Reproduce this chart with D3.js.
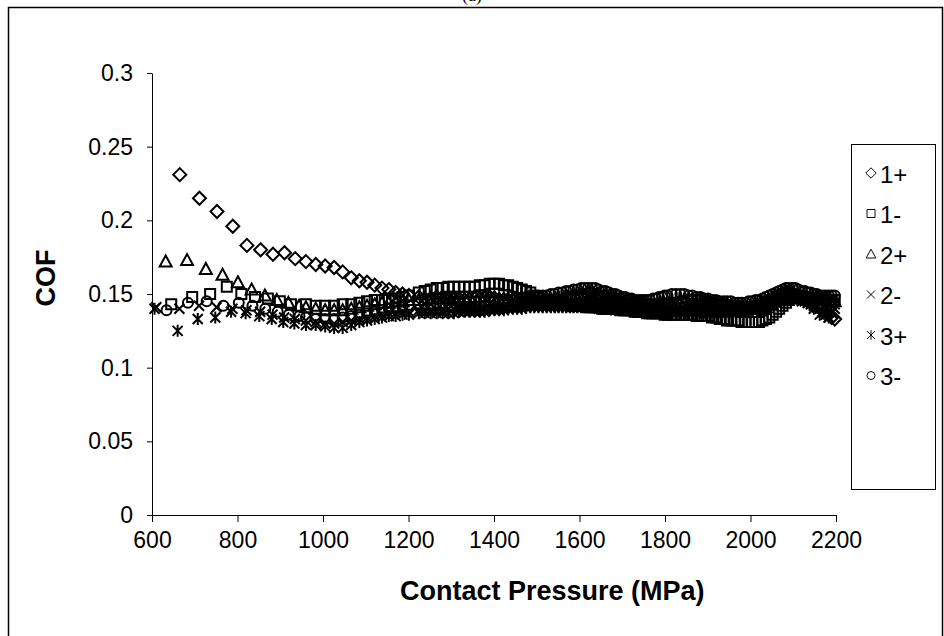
<!DOCTYPE html>
<html>
<head>
<meta charset="utf-8">
<script src="https://cdn.jsdelivr.net/npm/d3@7"></script>
<style>body{margin:0;background:#fff}</style>
</head>
<body>
<div id="chart"></div>
<script>
var w = 944;
var h = 636;

// pressure points shared by all tests above ~950 MPa
var denseP = [960,983,1005,1026,1046,1066,1085,1103,1121,1138,
  1154,1170,1186,1201,1224,1252,1280,1306,1331,1355,
  1378,1401,1423,1444,1465,1485,1504,1523,1542,1560,
  1578,1595,1612,1629,1645,1661,1676,1692,1707,1722,
  1737,1751,1765,1779,1793,1806,1826,1845,1864,1883,
  1901,1919,1937,1954,1971,1988,2004,2020,2036,2052,
  2067,2083,2098,2112,2127,2141,2155,2169,2183,2197];
// the readings in between
var denseP2 = [1238,1266,1293,1318,1343,1367,1390,1412,1433,1454,
  1475,1494,1514,1533,1551,1569,1586,1604,1620,1637,1653,
  1669,1684,1700,1715,1729,1744,1758,1772,1786,1799,
  1816,1836,1855,1874,1892,1910,1928,1945,1963,1979,1996,2012,
  2028,2044,2060,2075,2090,2105,2120,2134,2148,2162,2176,2190];

// 1+
var p1plus = [665,711,752,789,822,854,883,910,935];
var c1plus = [.231,.215,.206,.196,.183,.180,.177,.178,.174,
  .172,.170,.169,.168,.165,.161,.159,.158,.156,.154,
  .153,.151,.150,.149,.148,.147,.148,.147,.146,.147,
  .148,.147,.146,.146,.145,.146,.145,.145,.146,.146,
  .147,.148,.149,.150,.149,.148,.147,.146,.145,.145,
  .144,.143,.142,.141,.142,.143,.144,.145,.146,.146,
  .145,.144,.143,.142,.141,.140,.141,.142,.144,.146,
  .149,.151,.150,.148,.146,.144,.142,.140,.136,.133];
var c1plusB = [.147,.148,.147,.147,.146,.147,.148,.146,.146,.145,
  .145,.146,.145,.146,.146,.147,.148,.149,.150,.149,.148,
  .147,.146,.146,.145,.144,.143,.142,.141,.142,.143,
  .144,.145,.146,.146,.145,.144,.143,.142,.141,.140,.140,.142,
  .143,.145,.147,.150,.151,.149,.147,.145,.143,.141,.138,.134];

// 1-
var p1minus = [645,694,736,775,809,841,871,899,925];
var c1minus = [.143,.148,.150,.155,.150,.148,.147,.145,.143,
  .143,.142,.142,.142,.143,.143,.144,.145,.146,.146,
  .147,.147,.148,.149,.151,.153,.154,.155,.155,.155,
  .156,.157,.156,.155,.153,.151,.148,.146,.144,.143,
  .143,.142,.142,.141,.141,.140,.140,.140,.139,.139,
  .138,.138,.137,.137,.137,.136,.136,.136,.136,.135,
  .135,.134,.133,.132,.132,.131,.131,.131,.133,.136,
  .140,.144,.147,.148,.148,.147,.147,.146,.146,.146];
var c1minusB = [.152,.154,.155,.155,.155,.156,.157,.157,.156,.154,
  .152,.149,.147,.145,.143,.143,.142,.142,.141,.141,.140,
  .140,.140,.139,.139,.138,.138,.137,.137,.137,.136,
  .136,.136,.136,.135,.135,.134,.133,.132,.132,.131,.131,.131,
  .132,.134,.138,.142,.146,.148,.148,.147,.147,.146,.146,.146];

// 2+
var p2plus = [632,682,726,765,801,833,864,892,919,944];
var c2plus = [.172,.173,.167,.163,.158,.153,.149,.146,.144,.142,
  .141,.140,.139,.139,.139,.140,.141,.142,.143,.144,
  .144,.145,.145,.146,.146,.147,.147,.147,.147,.148,
  .148,.148,.147,.147,.146,.146,.145,.145,.145,.146,
  .146,.147,.147,.146,.146,.145,.145,.144,.144,.143,
  .143,.142,.142,.142,.142,.143,.143,.144,.144,.144,
  .143,.143,.142,.141,.140,.140,.140,.141,.143,.146,
  .149,.150,.150,.149,.148,.147,.147,.146,.146,.145];
var c2plusB = [.146,.147,.147,.147,.148,.148,.148,.147,.147,.146,
  .146,.145,.145,.145,.146,.146,.147,.147,.146,.146,.145,
  .145,.144,.144,.143,.143,.142,.142,.142,.142,.143,
  .143,.144,.144,.144,.143,.143,.142,.141,.140,.140,.140,.141,
  .142,.144,.148,.150,.150,.149,.148,.147,.147,.146,.146,.145];

// 2-
var p2minus = [610,664,710,751,788,821,853,882,909,934];
var c2minus = [.141,.140,.142,.141,.140,.139,.138,.136,.134,.133,
  .132,.131,.130,.130,.131,.132,.133,.134,.135,.136,
  .137,.137,.138,.138,.139,.139,.139,.140,.140,.140,
  .140,.141,.141,.141,.142,.142,.142,.142,.143,.143,
  .143,.143,.143,.142,.142,.142,.141,.141,.141,.140,
  .140,.140,.139,.139,.139,.139,.139,.139,.139,.139,
  .139,.139,.138,.138,.138,.138,.139,.140,.141,.143,
  .145,.147,.147,.146,.145,.143,.141,.138,.134,.140];
var c2minusB = [.139,.139,.140,.140,.140,.140,.141,.141,.141,.142,
  .142,.142,.142,.143,.143,.143,.143,.143,.142,.142,.142,
  .141,.141,.141,.140,.140,.140,.139,.139,.139,.139,
  .139,.139,.139,.139,.139,.139,.138,.138,.138,.138,.138,.139,
  .140,.142,.144,.146,.147,.146,.145,.144,.142,.140,.136,.137];

// 3+
var p3plus = [606,660,707,748,785,819,851,880,907,933];
var c3plus = [.140,.125,.133,.134,.138,.137,.135,.133,.131,.130,
  .129,.129,.128,.127,.127,.129,.131,.132,.133,.134,
  .135,.135,.136,.136,.137,.137,.137,.137,.138,.138,
  .138,.139,.139,.140,.140,.141,.141,.141,.141,.141,
  .141,.141,.141,.141,.140,.140,.140,.139,.139,.139,
  .138,.138,.137,.137,.137,.137,.137,.137,.137,.137,
  .138,.138,.138,.138,.139,.139,.140,.142,.144,.146,
  .148,.149,.149,.148,.147,.145,.142,.138,.134,.143];
var c3plusB = [.137,.137,.137,.138,.138,.138,.139,.139,.140,.140,
  .141,.141,.141,.141,.141,.141,.141,.141,.141,.141,.140,
  .140,.139,.139,.139,.138,.138,.137,.137,.137,.137,
  .137,.137,.137,.137,.138,.138,.138,.138,.139,.139,.140,.141,
  .143,.145,.147,.149,.149,.148,.146,.144,.140,.136,.136,.138];

// 3-
var p3minus = [634,684,728,767,803,835,865,894,920,945];
var c3minus = [.139,.144,.145,.142,.144,.142,.140,.138,.136,.135,
  .134,.133,.133,.133,.134,.135,.136,.137,.138,.139,
  .140,.141,.141,.142,.143,.143,.144,.144,.145,.145,
  .145,.145,.145,.146,.147,.148,.148,.149,.150,.151,
  .152,.153,.154,.154,.153,.152,.150,.149,.148,.147,
  .146,.146,.146,.147,.148,.149,.150,.150,.149,.148,
  .147,.146,.145,.145,.144,.144,.145,.146,.148,.150,
  .152,.154,.154,.153,.152,.151,.150,.149,.149,.149];
var c3minusB = [.143,.144,.144,.145,.145,.145,.145,.145,.146,.147,
  .148,.148,.149,.150,.151,.152,.153,.154,.154,.154,.152,
  .151,.150,.148,.147,.146,.146,.146,.147,.148,.149,
  .150,.150,.149,.148,.147,.146,.145,.145,.144,.144,.145,.146,
  .147,.149,.151,.153,.154,.154,.152,.151,.150,.149,.149,.149];

var names = ["1+", "1-", "2+", "2-", "3+", "3-"];
var shapes = ["diamond", "square", "triangle", "x", "star", "circle"];
var xTicks = [600, 800, 1000, 1200, 1400, 1600, 1800, 2000, 2200];
var yTicks = [0, 0.05, 0.1, 0.15, 0.2, 0.25, 0.3];

var series = [
  { name: names[0], shape: shapes[0], p: p1plus.concat(denseP, denseP2), c: c1plus.concat(c1plusB) },
  { name: names[1], shape: shapes[1], p: p1minus.concat(denseP, denseP2), c: c1minus.concat(c1minusB) },
  { name: names[2], shape: shapes[2], p: p2plus.concat(denseP, denseP2), c: c2plus.concat(c2plusB) },
  { name: names[3], shape: shapes[3], p: p2minus.concat(denseP, denseP2), c: c2minus.concat(c2minusB) },
  { name: names[4], shape: shapes[4], p: p3plus.concat(denseP, denseP2), c: c3plus.concat(c3plusB) },
  { name: names[5], shape: shapes[5], p: p3minus.concat(denseP, denseP2), c: c3minus.concat(c3minusB) }
];

var font = "'Liberation Sans', Arial, sans-serif";

var svg = d3.select("#chart")
  .append("svg")
  .attr("width", w)
  .attr("height", h)
  .style("display", "block")
  .style("background", "#fff");

// frame round the whole chart
svg.append("rect")
  .attr("x", 8.5).attr("y", 7.5)
  .attr("width", 934).attr("height", 640)
  .attr("fill", "none").attr("stroke", "#000").attr("stroke-width", 1.5);

svg.append("text")
  .attr("x", 472).attr("y", 1)
  .attr("text-anchor", "middle")
  .attr("font-family", "'Liberation Serif', 'Times New Roman', serif")
  .attr("font-size", "18px")
  .text("(a)");

var xScale = d3.scaleLinear().domain([600, 2200]).range([152, 836]);
var yScale = d3.scaleLinear().domain([0, 0.3]).range([515, 73]);

var xAxis = svg.append("g")
  .attr("transform", "translate(0," + yScale(0) + ")")
  .call(d3.axisBottom(xScale).tickValues(xTicks).tickSize(7).tickSizeOuter(0).tickPadding(10).tickFormat(d3.format("d")));

var yAxis = svg.append("g")
  .attr("transform", "translate(" + xScale(600) + ",0)")
  .call(d3.axisLeft(yScale).tickValues(yTicks).tickSize(5).tickSizeOuter(0).tickPadding(14).tickFormat(String));

[xAxis, yAxis].forEach(function (g) {
  g.selectAll("text").attr("font-family", font).attr("font-size", "23px").attr("fill", "#000");
  g.selectAll("line").attr("stroke", "#000");
  g.select(".domain").attr("stroke", "#000");
});

svg.append("text")
  .attr("x", 400).attr("y", 600)
  .attr("text-anchor", "start")
  .attr("font-family", font).attr("font-weight", "bold").attr("font-size", "27px")
  .text("Contact Pressure (MPa)");

svg.append("text")
  .attr("transform", "translate(55,278) rotate(-90)")
  .attr("text-anchor", "middle")
  .attr("font-family", font).attr("font-weight", "bold").attr("font-size", "27px")
  .text("COF");

function markerPath(shape) {
  if (shape == "diamond") return "M0,-6.5L6.5,0L0,6.5L-6.5,0Z";
  if (shape == "square") return "M-5,-5H5V5H-5Z";
  if (shape == "triangle") return "M0,-6L6,5L-6,5Z";
  if (shape == "x") return "M-5,-5L5,5M-5,5L5,-5";
  if (shape == "star") return "M-5,-5L5,5M-5,5L5,-5M0,-6V6";
  return d3.arc()({ innerRadius: 0, outerRadius: 5, startAngle: 0, endAngle: 2 * Math.PI });
}

series.forEach(function (sr) {
  var pts = sr.p.map(function (p, i) { return { p: p, c: sr.c[i] }; });
  svg.append("g")
    .selectAll("path")
    .data(pts)
    .join("path")
    .attr("transform", function (d) { return "translate(" + xScale(d.p) + "," + yScale(d.c) + ")"; })
    .attr("d", markerPath(sr.shape))
    .attr("fill", "none")
    .attr("stroke", "#000")
    .attr("stroke-width", 2);
});

// legend
var legend = svg.append("g");
legend.append("rect")
  .attr("x", 851.5).attr("y", 144.5)
  .attr("width", 84).attr("height", 345)
  .attr("fill", "#fff").attr("stroke", "#000").attr("stroke-width", 1);

var items = legend.selectAll("g.item")
  .data(series)
  .join("g")
  .attr("class", "item")
  .attr("transform", function (d, i) { return "translate(871," + (173 + i * 40.5) + ")"; });

items.append("path")
  .attr("d", function (d) { return markerPath(d.shape); })
  .attr("transform", "scale(0.8)")
  .attr("fill", "none").attr("stroke", "#000").attr("stroke-width", 1.2);

items.append("text")
  .attr("x", 9).attr("y", 1)
  .attr("dominant-baseline", "central")
  .attr("font-family", font).attr("font-size", "24px")
  .text(function (d) { return d.name; });
</script>
</body>
</html>
